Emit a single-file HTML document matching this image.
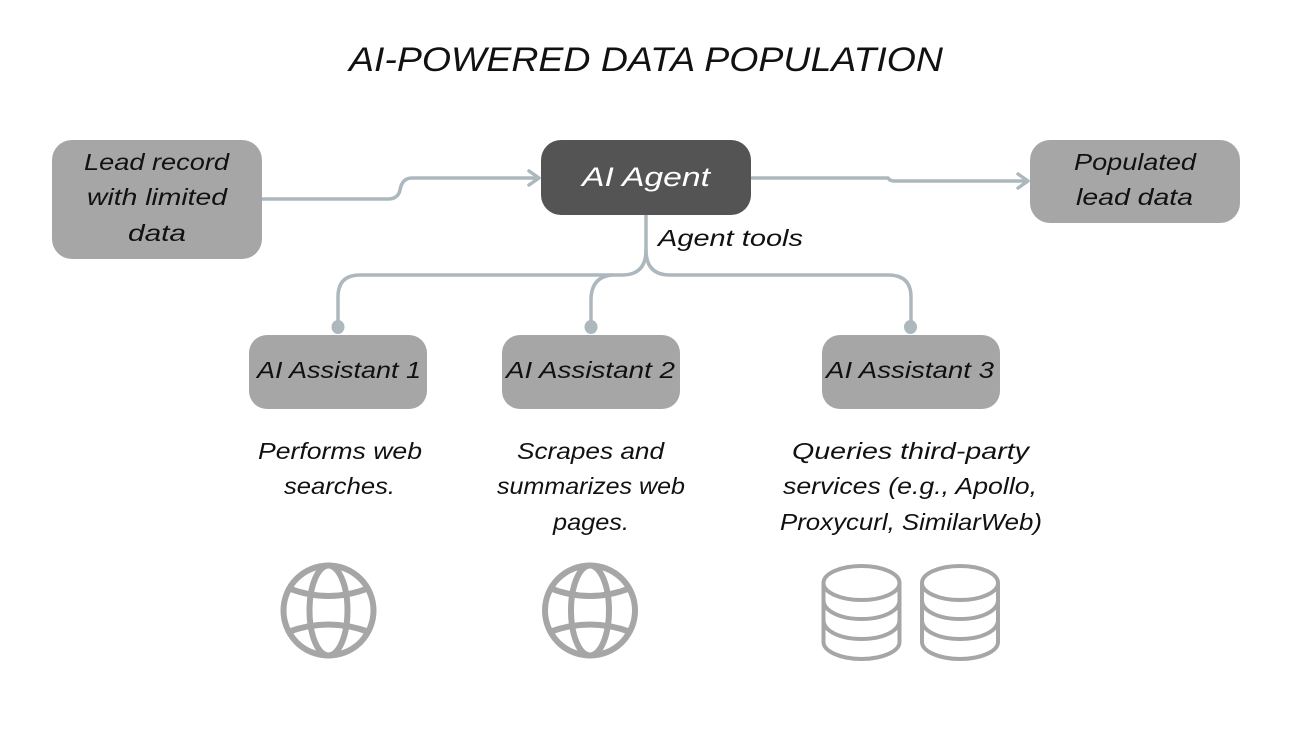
<!DOCTYPE html>
<html>
<head>
<meta charset="utf-8">
<style>
html,body{margin:0;padding:0;background:#fff}
svg{display:block}
text{font-family:"Liberation Sans",sans-serif;font-style:italic;fill:#111}
.t{font-size:23px}
</style>
</head>
<body>
<svg width="1292" height="738" viewBox="0 0 1292 738" xmlns="http://www.w3.org/2000/svg">
<rect width="1292" height="738" fill="#fff"/>
<text x="349" y="71" font-size="34" textLength="594" lengthAdjust="spacingAndGlyphs">AI-POWERED DATA POPULATION</text>

<g fill="none" stroke="#adb8be" stroke-width="3.5" stroke-linecap="round" stroke-linejoin="round">
<path d="M263 199H388Q398 199 400 190Q402 178 412 178H538"/>
<path d="M529 171L539 178L529 185"/>
<path d="M752 178H888Q890 181 894 181H1026"/>
<path d="M1018 174L1028 181L1018 188"/>
<path d="M646 215V250Q646 275 622 275H360Q338 275 338 297V327"/>
<path d="M646 250Q646 275 670 275H888Q911 275 911 297V327"/>
<path d="M612 275Q591 277 591 300V327"/>
</g>
<g fill="#adb8be">
<ellipse cx="338" cy="327" rx="6.5" ry="7"/>
<ellipse cx="591" cy="327" rx="6.5" ry="7"/>
<ellipse cx="910.500" cy="327" rx="6.500" ry="7"/>
</g>

<g fill="#a6a6a6">
<rect x="52" y="140" width="210" height="119" rx="20"/>
<rect x="1030" y="140" width="210" height="83" rx="20"/>
<rect x="249" y="335" width="178" height="74" rx="18"/>
<rect x="502" y="335" width="178" height="74" rx="18"/>
<rect x="822" y="335" width="178" height="74" rx="18"/>
</g>
<rect x="541" y="140" width="210" height="75" rx="20" fill="#545454"/>

<text class="t" x="84" y="170" textLength="145" lengthAdjust="spacingAndGlyphs">Lead record</text>
<text class="t" x="87" y="205" textLength="140" lengthAdjust="spacingAndGlyphs">with limited</text>
<text class="t" x="128" y="241" textLength="58" lengthAdjust="spacingAndGlyphs">data</text>

<text x="582" y="186" font-size="27" style="fill:#fff" textLength="128" lengthAdjust="spacingAndGlyphs">AI Agent</text>

<text class="t" x="1074" y="170" textLength="122" lengthAdjust="spacingAndGlyphs">Populated</text>
<text class="t" x="1076" y="205" textLength="117" lengthAdjust="spacingAndGlyphs">lead data</text>

<text class="t" x="658" y="246" textLength="145" lengthAdjust="spacingAndGlyphs">Agent tools</text>

<text class="t" x="257" y="378" textLength="164" lengthAdjust="spacingAndGlyphs">AI Assistant 1</text>
<text class="t" x="506" y="378" textLength="169" lengthAdjust="spacingAndGlyphs">AI Assistant 2</text>
<text class="t" x="826" y="378" textLength="168" lengthAdjust="spacingAndGlyphs">AI Assistant 3</text>

<text class="t" x="258" y="459" textLength="164" lengthAdjust="spacingAndGlyphs">Performs web</text>
<text class="t" x="284" y="494" textLength="111" lengthAdjust="spacingAndGlyphs">searches.</text>

<text class="t" x="517" y="459" textLength="147" lengthAdjust="spacingAndGlyphs">Scrapes and</text>
<text class="t" x="497" y="494" textLength="188" lengthAdjust="spacingAndGlyphs">summarizes web</text>
<text class="t" x="553" y="530" textLength="76" lengthAdjust="spacingAndGlyphs">pages.</text>

<text class="t" x="792" y="459" textLength="237" lengthAdjust="spacingAndGlyphs">Queries third-party</text>
<text class="t" x="783" y="494" textLength="254" lengthAdjust="spacingAndGlyphs">services (e.g., Apollo,</text>
<text class="t" x="780" y="530" textLength="262" lengthAdjust="spacingAndGlyphs">Proxycurl, SimilarWeb)</text>

<g fill="none" stroke="#a6a6a6" stroke-width="6">
<g>
<circle cx="328.500" cy="610.500" r="45"/>
<ellipse cx="328.500" cy="610.500" rx="19" ry="45"/>
<path d="M288 588Q328.500 604 369 588"/>
<path d="M288 632Q328.500 617 369 632"/>
</g>
<g>
<circle cx="590" cy="610.500" r="45"/>
<ellipse cx="590" cy="610.500" rx="19" ry="45"/>
<path d="M549.500 588Q590 604 630.500 588"/>
<path d="M549.500 632Q590 617 630.500 632"/>
</g>
</g>
<g fill="none" stroke="#a6a6a6" stroke-width="4">
<g>
<ellipse cx="861.500" cy="583" rx="38" ry="17"/>
<path d="M823.500 583V642C823.500 651 840 659 861.500 659S899.500 651 899.500 642V583"/>
<path d="M823.500 600C823.500 611 840 619 861.500 619S899.500 611 899.500 600"/>
<path d="M823.500 620C823.500 631 840 639 861.500 639S899.500 631 899.500 620"/>
</g>
<g>
<ellipse cx="960" cy="583" rx="38" ry="17"/>
<path d="M922 583V642C922 651 938.500 659 960 659S998 651 998 642V583"/>
<path d="M922 600C922 611 938.500 619 960 619S998 611 998 600"/>
<path d="M922 620C922 631 938.500 639 960 639S998 631 998 620"/>
</g>
</g>
</svg>
</body>
</html>
